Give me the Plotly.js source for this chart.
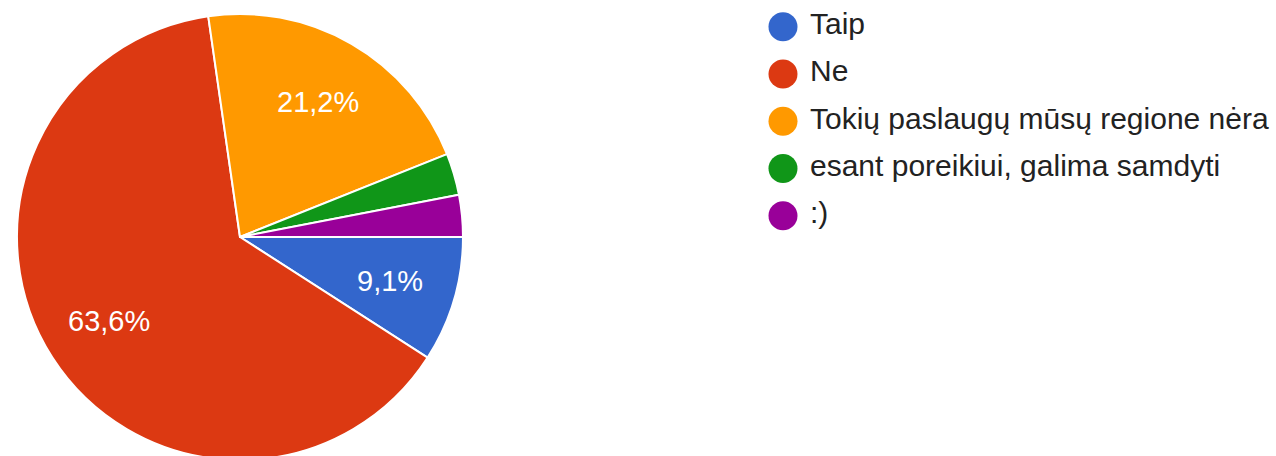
<!DOCTYPE html>
<html>
<head>
<meta charset="utf-8">
<script src="https://cdn.plot.ly/plotly-3.0.1.min.js"></script>
<style>
html,body{margin:0;padding:0;background:#fff;overflow:hidden;width:1276px;height:456px;}
#chart{width:1276px;height:470px;}
</style>
</head>
<body>
<div id="chart"></div>
<script>
var categories = ["Taip", "Ne", "Tokių paslaugų mūsų regione nėra", "esant poreikiui, galima samdyti", ":)"];
var counts = [3, 21, 7, 1, 1];
var colors = ["#3366cc", "#dc3912", "#ff9900", "#109618", "#990099"];
var showLabel = [true, true, true, false, false];

var FONT = "Arial, 'Liberation Sans', sans-serif";
var W = 1276, H = 470;
var cx = 240, cy = 237, R = 223;

var pie = {
  type: "pie",
  labels: categories,
  values: counts,
  sort: false,
  direction: "clockwise",
  rotation: 90,
  marker: {colors: colors, line: {color: "#ffffff", width: 2}},
  textinfo: "none",
  domain: {x: [(cx - R) / W, (cx + R) / W], y: [(H - cy - R) / H, (H - cy + R) / H]},
  showlegend: false,
  hoverinfo: "label+percent"
};

// percentage labels placed at 70% of the radius along each slice's mid-angle
var total = counts.reduce(function(a, b){ return a + b; }, 0);
var annotations = [];
var cum = 0;
counts.forEach(function(v, i){
  var mid = (cum + v / 2) / total;
  cum += v;
  if (!showLabel[i]) return;
  var ang = mid * 2 * Math.PI; // clockwise from 3 o'clock
  var px = cx + 0.70 * R * Math.cos(ang);
  var py = cy + 0.70 * R * Math.sin(ang);
  var pct = (v / total * 100).toFixed(1).replace(".", ",") + "%";
  annotations.push({
    xref: "paper", yref: "paper",
    x: px / W, y: 1 - py / H,
    xanchor: "center", yanchor: "middle",
    text: pct, showarrow: false,
    font: {family: FONT, size: 29, color: "#ffffff"}
  });
});

var legendIdx = categories.map(function(_, i){ return i; });
var legendDots = {
  type: "scatter",
  mode: "markers",
  x: categories.map(function(){ return 0; }),
  y: legendIdx,
  marker: {symbol: "circle", size: 29, color: colors, line: {width: 0}},
  xaxis: "x", yaxis: "y",
  cliponaxis: false,
  showlegend: false,
  hoverinfo: "skip"
};
var legendText = {
  type: "scatter",
  mode: "text",
  x: categories.map(function(){ return 27; }),
  y: legendIdx,
  text: categories,
  textposition: "middle right",
  textfont: {family: FONT, size: 30, color: "#222222"},
  xaxis: "x", yaxis: "y",
  cliponaxis: false,
  showlegend: false,
  hoverinfo: "text"
};

var x0 = 702;
var layout = {
  width: W, height: H,
  margin: {l: 0, r: 0, t: 0, b: 0},
  paper_bgcolor: "#ffffff",
  plot_bgcolor: "rgba(0,0,0,0)",
  showlegend: false,
  font: {family: FONT},
  annotations: annotations,
  xaxis: {domain: [x0 / W, 1], range: [-(783 - x0), W - 783], visible: false, fixedrange: true},
  yaxis: {domain: [0, 1], range: [(H - 26.7) / 47.25, -26.7 / 47.25], visible: false, fixedrange: true}
};

Plotly.newPlot("chart", [pie, legendDots, legendText], layout, {displayModeBar: false, staticPlot: true});
</script>
</body>
</html>
